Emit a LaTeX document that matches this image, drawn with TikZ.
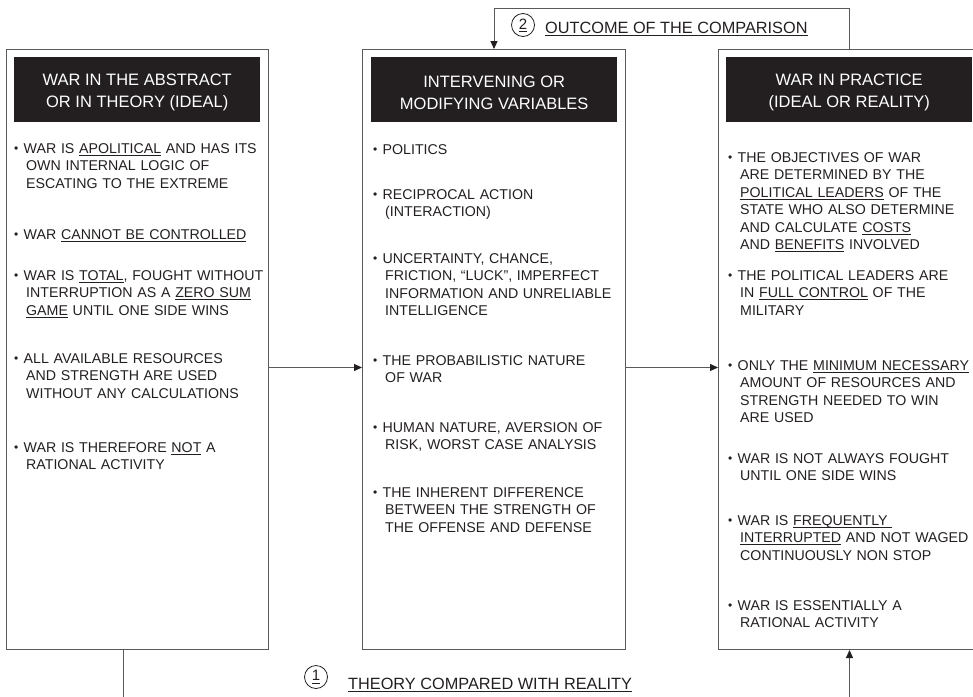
\documentclass[tikz,border=0pt]{standalone}
\usepackage{fontspec}
\setmainfont{Liberation Sans}
\usetikzlibrary{arrows.meta}

\definecolor{ink}{HTML}{231F20}
\definecolor{rulegray}{HTML}{5A5A5A}

% underline set a little below the baseline
\newcommand{\uln}[1]{\leavevmode\setbox0\hbox{#1}\rlap{\rule[-2.4pt]{\wd0}{0.7pt}}\box0\relax}
% bullet at the head of an entry
\newcommand{\bul}{\leavevmode\makebox[9.5pt][l]{\raisebox{0.9pt}{\fontsize{12}{12}\selectfont •}}}
% new line of the same entry, indented under its text
\newcommand{\nxl}{\newline\hspace*{12pt}}

\tikzset{
  panel/.style={draw=rulegray, line width=1pt, inner sep=0pt, anchor=north west},
  headbox/.style={fill=ink, inner sep=0pt, anchor=north west,
    minimum width=246pt, minimum height=65pt},
  headtext/.style={text=white, inner sep=0pt, align=center,
    font=\fontsize{16.5}{22}\selectfont},
  item/.style={anchor=base west, inner sep=0pt, text width=258pt, align=left,
    text=ink, font=\fontsize{14.2}{17.5}\selectfont},
  flow/.style={draw=rulegray, line width=1pt,
    -{Triangle[length=8pt,width=7pt,color=ink]}},
  numring/.style={circle, draw=ink, line width=0.8pt, minimum size=23pt,
    inner sep=0pt, text=ink, font=\fontsize{15}{15}\selectfont},
  caption/.style={anchor=base west, inner sep=0pt, text=ink,
    font=\fontsize{16.3}{18}\selectfont}
}

\begin{document}
\begin{tikzpicture}[x=1pt, y=-1pt]
\useasboundingbox (0,0) rectangle (973,696);

% the three panels
\node[panel, minimum width=262pt, minimum height=600pt] (L) at (6,49) {};
\node[panel, minimum width=263pt, minimum height=600pt] (M) at (362,49) {};
\node[panel, minimum width=262pt, minimum height=600pt] (R) at (718,49) {};

% panel headings
\node[headbox] (hL) at (14,57) {};
\node[headbox] (hM) at (371,57) {};
\node[headbox] (hR) at (726,57) {};
\node[headtext] (tL) at ([yshift=-3pt]hL.center) {WAR IN THE ABSTRACT\\OR IN THEORY (IDEAL)};
\node[headtext] (tM) at ([yshift=-3pt]hM.center) {INTERVENING OR\\MODIFYING VARIABLES};
\node[headtext] (tR) at ([yshift=-3pt]hR.center) {WAR IN PRACTICE\\(IDEAL OR REALITY)};

% war in theory
\node[item] (l1) at (14,153) {\bul WAR IS \uln{APOLITICAL} AND HAS ITS\nxl OWN INTERNAL LOGIC OF\nxl ESCATING TO THE EXTREME};
\node[item] (l2) at (14,239) {\bul WAR \uln{CANNOT BE CONTROLLED}};
\node[item] (l3) at (14,280) {\bul WAR IS \uln{TOTAL}, FOUGHT WITHOUT\nxl INTERRUPTION AS A \uln{ZERO SUM}\nxl \uln{GAME} UNTIL ONE SIDE WINS};
\node[item] (l4) at (14,363) {\bul ALL AVAILABLE RESOURCES\nxl AND STRENGTH ARE USED\nxl WITHOUT ANY CALCULATIONS};
\node[item] (l5) at (14,452) {\bul WAR IS THEREFORE \uln{NOT} A\nxl RATIONAL ACTIVITY};

% intervening variables
\node[item] (m1) at (373,154) {\bul POLITICS};
\node[item] (m2) at (373,199) {\bul RECIPROCAL ACTION\nxl (INTERACTION)};
\node[item] (m3) at (373,263) {\bul UNCERTAINTY, CHANCE,\nxl FRICTION, “LUCK”, IMPERFECT\nxl INFORMATION AND UNRELIABLE\nxl INTELLIGENCE};
\node[item] (m4) at (373,365) {\bul THE PROBABILISTIC NATURE\nxl OF WAR};
\node[item] (m5) at (373,432) {\bul HUMAN NATURE, AVERSION OF\nxl RISK, WORST CASE ANALYSIS};
\node[item] (m6) at (373,497) {\bul THE INHERENT DIFFERENCE\nxl BETWEEN THE STRENGTH OF\nxl THE OFFENSE AND DEFENSE};

% war in practice
\node[item] (r1) at (728,162) {\bul THE OBJECTIVES OF WAR\nxl ARE DETERMINED BY THE\nxl \uln{POLITICAL LEADERS} OF THE\nxl STATE WHO ALSO DETERMINE\nxl AND CALCULATE \uln{COSTS}\nxl AND \uln{BENEFITS} INVOLVED};
\node[item] (r2) at (728,280) {\bul THE POLITICAL LEADERS ARE\nxl IN \uln{FULL CONTROL} OF THE\nxl MILITARY};
\node[item] (r3) at (728,370) {\bul ONLY THE \uln{MINIMUM NECESSARY}\nxl AMOUNT OF RESOURCES AND\nxl STRENGTH NEEDED TO WIN\nxl ARE USED};
\node[item] (r4) at (728,463) {\bul WAR IS NOT ALWAYS FOUGHT\nxl UNTIL ONE SIDE WINS};
\node[item] (r5) at (728,525) {\bul WAR IS \uln{FREQUENTLY\ }\nxl \uln{INTERRUPTED} AND NOT WAGED\nxl CONTINUOUSLY NON STOP};
\node[item] (r6) at (728,610) {\bul WAR IS ESSENTIALLY A\nxl RATIONAL ACTIVITY};

% forward flow between panels
\draw[flow] ([yshift=-18pt]L.east) -- ([yshift=-18pt]M.west);
\draw[flow] ([yshift=-18pt]M.east) -- ([yshift=-18pt]R.west);

% feedback loops
\draw[flow] (R.north) -- ++(0,-41) -| (M.north);
\draw[flow] ([xshift=-14pt]L.south) -- ++(0,60) -| (R.south);

% loop captions
\node[numring] (n2) at (523,25) {\uln{2}};
\node[caption] (c2) at (545,33) {\uln{OUTCOME OF THE COMPARISON}};
\node[numring] (n1) at (316,677) {\uln{1}};
\node[caption] (c1) at (348,689) {\uln{THEORY COMPARED WITH REALITY}};
\end{tikzpicture}
\end{document}
